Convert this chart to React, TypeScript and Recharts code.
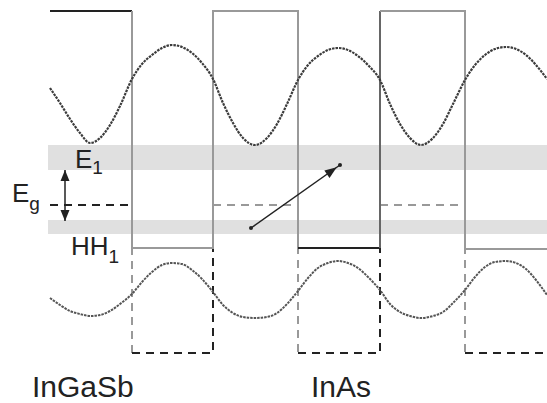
import React from "react";
import { ComposedChart, Line, XAxis, YAxis, ReferenceArea, Scatter } from "recharts";

type P = { x: number; y: number };

// conduction band edge (solid)
const cbBlackA: P[] = [{ x: 50, y: 11 }, { x: 132, y: 11 }];
const cbGrayA: P[] = [
  { x: 132, y: 11 }, { x: 132, y: 248 }, { x: 213, y: 248 }, { x: 213, y: 11 },
  { x: 298, y: 11 }, { x: 298, y: 248 },
];
const cbBlackB: P[] = [{ x: 298, y: 248 }, { x: 380, y: 248 }];
const cbMidB: P[] = [{ x: 380, y: 248 }, { x: 380, y: 11 }];
const cbGrayB: P[] = [{ x: 380, y: 11 }, { x: 465, y: 11 }, { x: 465, y: 249 }, { x: 547, y: 249 }];

// valence band edge (dashed)
const vbBlackA: P[] = [{ x: 50, y: 205 }, { x: 132, y: 205 }];
const vbGrayA: P[] = [{ x: 132, y: 205 }, { x: 132, y: 353 }];
const vbBlackB: P[] = [{ x: 132, y: 353 }, { x: 213, y: 353 }, { x: 213, y: 205 }];
const vbGrayB: P[] = [{ x: 213, y: 205 }, { x: 298, y: 205 }, { x: 298, y: 353 }];
const vbBlackC: P[] = [{ x: 298, y: 353 }, { x: 380, y: 353 }, { x: 380, y: 205 }];
const vbGrayC: P[] = [{ x: 380, y: 205 }, { x: 465, y: 205 }, { x: 465, y: 353 }];
const vbBlackD: P[] = [{ x: 465, y: 353 }, { x: 547, y: 353 }];

// minibands
const bandE1 = { x1: 48, x2: 547, y1: 145, y2: 170 };
const bandHH1 = { x1: 48, x2: 547, y1: 220, y2: 234 };

// electron wavefunction
const waveE: P[] = [
  { x: 50, y: 88 }, { x: 60, y: 103 }, { x: 70, y: 119 }, { x: 80, y: 133 }, { x: 90, y: 143 },
  { x: 100, y: 138 }, { x: 110, y: 125 }, { x: 120, y: 106 }, { x: 132, y: 79 }, { x: 142, y: 64 },
  { x: 152, y: 55 }, { x: 162, y: 48 }, { x: 172, y: 45 }, { x: 182, y: 47 }, { x: 192, y: 53 },
  { x: 202, y: 63 }, { x: 213, y: 79 }, { x: 223, y: 103 }, { x: 233, y: 123 }, { x: 243, y: 138 },
  { x: 255, y: 145 }, { x: 267, y: 138 }, { x: 277, y: 124 }, { x: 287, y: 104 }, { x: 298, y: 80 },
  { x: 308, y: 65 }, { x: 318, y: 56 }, { x: 328, y: 50 }, { x: 338, y: 48 }, { x: 348, y: 50 },
  { x: 358, y: 56 }, { x: 368, y: 65 }, { x: 380, y: 80 }, { x: 390, y: 104 }, { x: 400, y: 124 },
  { x: 410, y: 138 }, { x: 421, y: 145 }, { x: 433, y: 138 }, { x: 443, y: 124 }, { x: 453, y: 104 },
  { x: 465, y: 80 }, { x: 475, y: 65 }, { x: 485, y: 55 }, { x: 495, y: 49 }, { x: 506, y: 47 },
  { x: 516, y: 49 }, { x: 526, y: 55 }, { x: 536, y: 65 }, { x: 547, y: 79 },
];

// hole wavefunction
const waveH: P[] = [
  { x: 50, y: 298 }, { x: 60, y: 305 }, { x: 70, y: 311 }, { x: 80, y: 314 }, { x: 90, y: 316 },
  { x: 100, y: 315 }, { x: 110, y: 311 }, { x: 120, y: 304 }, { x: 132, y: 294 }, { x: 142, y: 282 },
  { x: 152, y: 272 }, { x: 162, y: 265 }, { x: 172, y: 263 }, { x: 182, y: 264 }, { x: 192, y: 270 },
  { x: 202, y: 279 }, { x: 213, y: 292 }, { x: 223, y: 305 }, { x: 233, y: 313 }, { x: 243, y: 317 },
  { x: 255, y: 318 }, { x: 267, y: 317 }, { x: 277, y: 313 }, { x: 287, y: 304 }, { x: 298, y: 291 },
  { x: 308, y: 278 }, { x: 318, y: 268 }, { x: 328, y: 263 }, { x: 338, y: 261 }, { x: 348, y: 263 },
  { x: 358, y: 268 }, { x: 368, y: 277 }, { x: 380, y: 290 }, { x: 390, y: 304 }, { x: 400, y: 312 },
  { x: 410, y: 316 }, { x: 421, y: 318 }, { x: 433, y: 316 }, { x: 443, y: 312 }, { x: 453, y: 303 },
  { x: 465, y: 290 }, { x: 475, y: 277 }, { x: 485, y: 267 }, { x: 495, y: 262 }, { x: 506, y: 261 },
  { x: 516, y: 263 }, { x: 526, y: 269 }, { x: 536, y: 280 }, { x: 547, y: 295 },
];

// arrows
const arrowEg: P[] = [{ x: 65, y: 170 }, { x: 65, y: 221 }];
const arrowTrans: P[] = [{ x: 251, y: 228 }, { x: 340, y: 165 }];

// labels
const labels = [
  { x: 75, y: 168, main: "E", sub: "1", subDy: 6 },
  { x: 12, y: 202, main: "E", sub: "g", subDy: 8 },
  { x: 71, y: 255, main: "HH", sub: "1", subDy: 8 },
  { x: 32, y: 397, main: "InGaSb", sub: "", subDy: 0 },
  { x: 311, y: 397, main: "InAs", sub: "", subDy: 0 },
];

const BLACK = "#222";
const GRAY = "#999";
const MID = "#666";
const FONT = "'Liberation Sans', Arial, Helvetica, sans-serif";

function head(tipX: number, tipY: number, dx: number, dy: number, len: number, half: number, key: string) {
  const L = Math.hypot(dx, dy) || 1;
  const ux = dx / L, uy = dy / L;
  const bx = tipX - ux * len, by = tipY - uy * len;
  const px = -uy * half, py = ux * half;
  return (
    <polygon
      key={key}
      points={`${tipX},${tipY} ${bx + px},${by + py} ${bx - px},${by - py}`}
      fill={BLACK}
      stroke="none"
    />
  );
}

const egDot = (props: any) => {
  const { cx, cy, index } = props;
  const other = arrowEg[index === 0 ? 1 : 0];
  const me = arrowEg[index];
  return head(cx, cy, me.x - other.x, me.y - other.y, 11, 4.5, `eg${index}`);
};

const transDot = (props: any) => {
  const { cx, cy, index } = props;
  const a = arrowTrans[0], b = arrowTrans[1];
  if (index === 0) {
    return <circle key="t0" cx={cx} cy={cy} r={2} fill={BLACK} />;
  }
  const dx = b.x - a.x, dy = b.y - a.y;
  const L = Math.hypot(dx, dy);
  const tx = cx - (dx / L) * 4, ty = cy - (dy / L) * 4;
  return (
    <g key="t1">
      <circle cx={cx} cy={cy} r={2} fill={BLACK} />
      {head(tx, ty, dx, dy, 12, 4.5, "th")}
    </g>
  );
};

const LabelShape = (props: any) => {
  const { cx, cy, payload } = props;
  const big = payload.sub === "" ? 30 : 26;
  return (
    <text x={cx} y={cy} fontFamily={FONT} fontSize={big} fill={BLACK}>
      {payload.main}
      {payload.sub ? (
        <tspan fontSize={19} dy={payload.subDy}>{payload.sub}</tspan>
      ) : null}
    </text>
  );
};

const seg = (data: P[], color: string, dashed: boolean, key: string) => (
  <Line
    key={key}
    data={data}
    dataKey="y"
    type="linear"
    stroke={color}
    strokeWidth={2}
    strokeDasharray={dashed ? "8 6" : undefined}
    dot={false}
    activeDot={false}
    isAnimationActive={false}
  />
);

export default function App() {
  return (
    <div style={{ position: "absolute", left: 0, top: 0, width: 547, height: 403, background: "#fff" }}>
      <ComposedChart width={547} height={403} margin={{ top: 0, right: 0, bottom: 0, left: 0 }}>
        <XAxis type="number" dataKey="x" domain={[0, 547]} hide allowDataOverflow />
        <YAxis type="number" dataKey="y" domain={[0, 403]} reversed hide allowDataOverflow />
        <ReferenceArea {...bandE1} fill="#e0e0e0" fillOpacity={1} stroke="none" ifOverflow="extendDomain" />
        <ReferenceArea {...bandHH1} fill="#e0e0e0" fillOpacity={1} stroke="none" ifOverflow="extendDomain" />
        {seg(vbBlackA, BLACK, true, "v1")}
        {seg(vbGrayA, GRAY, true, "v2")}
        {seg(vbBlackB, BLACK, true, "v3")}
        {seg(vbGrayB, GRAY, true, "v4")}
        {seg(vbBlackC, BLACK, true, "v5")}
        {seg(vbGrayC, GRAY, true, "v6")}
        {seg(vbBlackD, BLACK, true, "v7")}
        {seg(cbBlackA, BLACK, false, "c1")}
        {seg(cbGrayA, GRAY, false, "c2")}
        {seg(cbBlackB, BLACK, false, "c3")}
        {seg(cbMidB, MID, false, "c3b")}
        {seg(cbGrayB, GRAY, false, "c4")}
        <Line
          data={waveE}
          dataKey="y"
          type="monotone"
          stroke="#3c3c3c"
          strokeWidth={2.2}
          strokeDasharray="2.5 1"
          dot={false}
          activeDot={false}
          isAnimationActive={false}
        />
        <Line
          data={waveH}
          dataKey="y"
          type="monotone"
          stroke="#555"
          strokeWidth={2}
          strokeDasharray="2.5 1"
          dot={false}
          activeDot={false}
          isAnimationActive={false}
        />
        <Line
          data={arrowEg}
          dataKey="y"
          type="linear"
          stroke={BLACK}
          strokeWidth={1.5}
          dot={egDot}
          activeDot={false}
          isAnimationActive={false}
        />
        <Line
          data={arrowTrans}
          dataKey="y"
          type="linear"
          stroke={BLACK}
          strokeWidth={1.5}
          dot={transDot}
          activeDot={false}
          isAnimationActive={false}
        />
        <Scatter data={labels} dataKey="y" shape={LabelShape} isAnimationActive={false} />
      </ComposedChart>
    </div>
  );
}
